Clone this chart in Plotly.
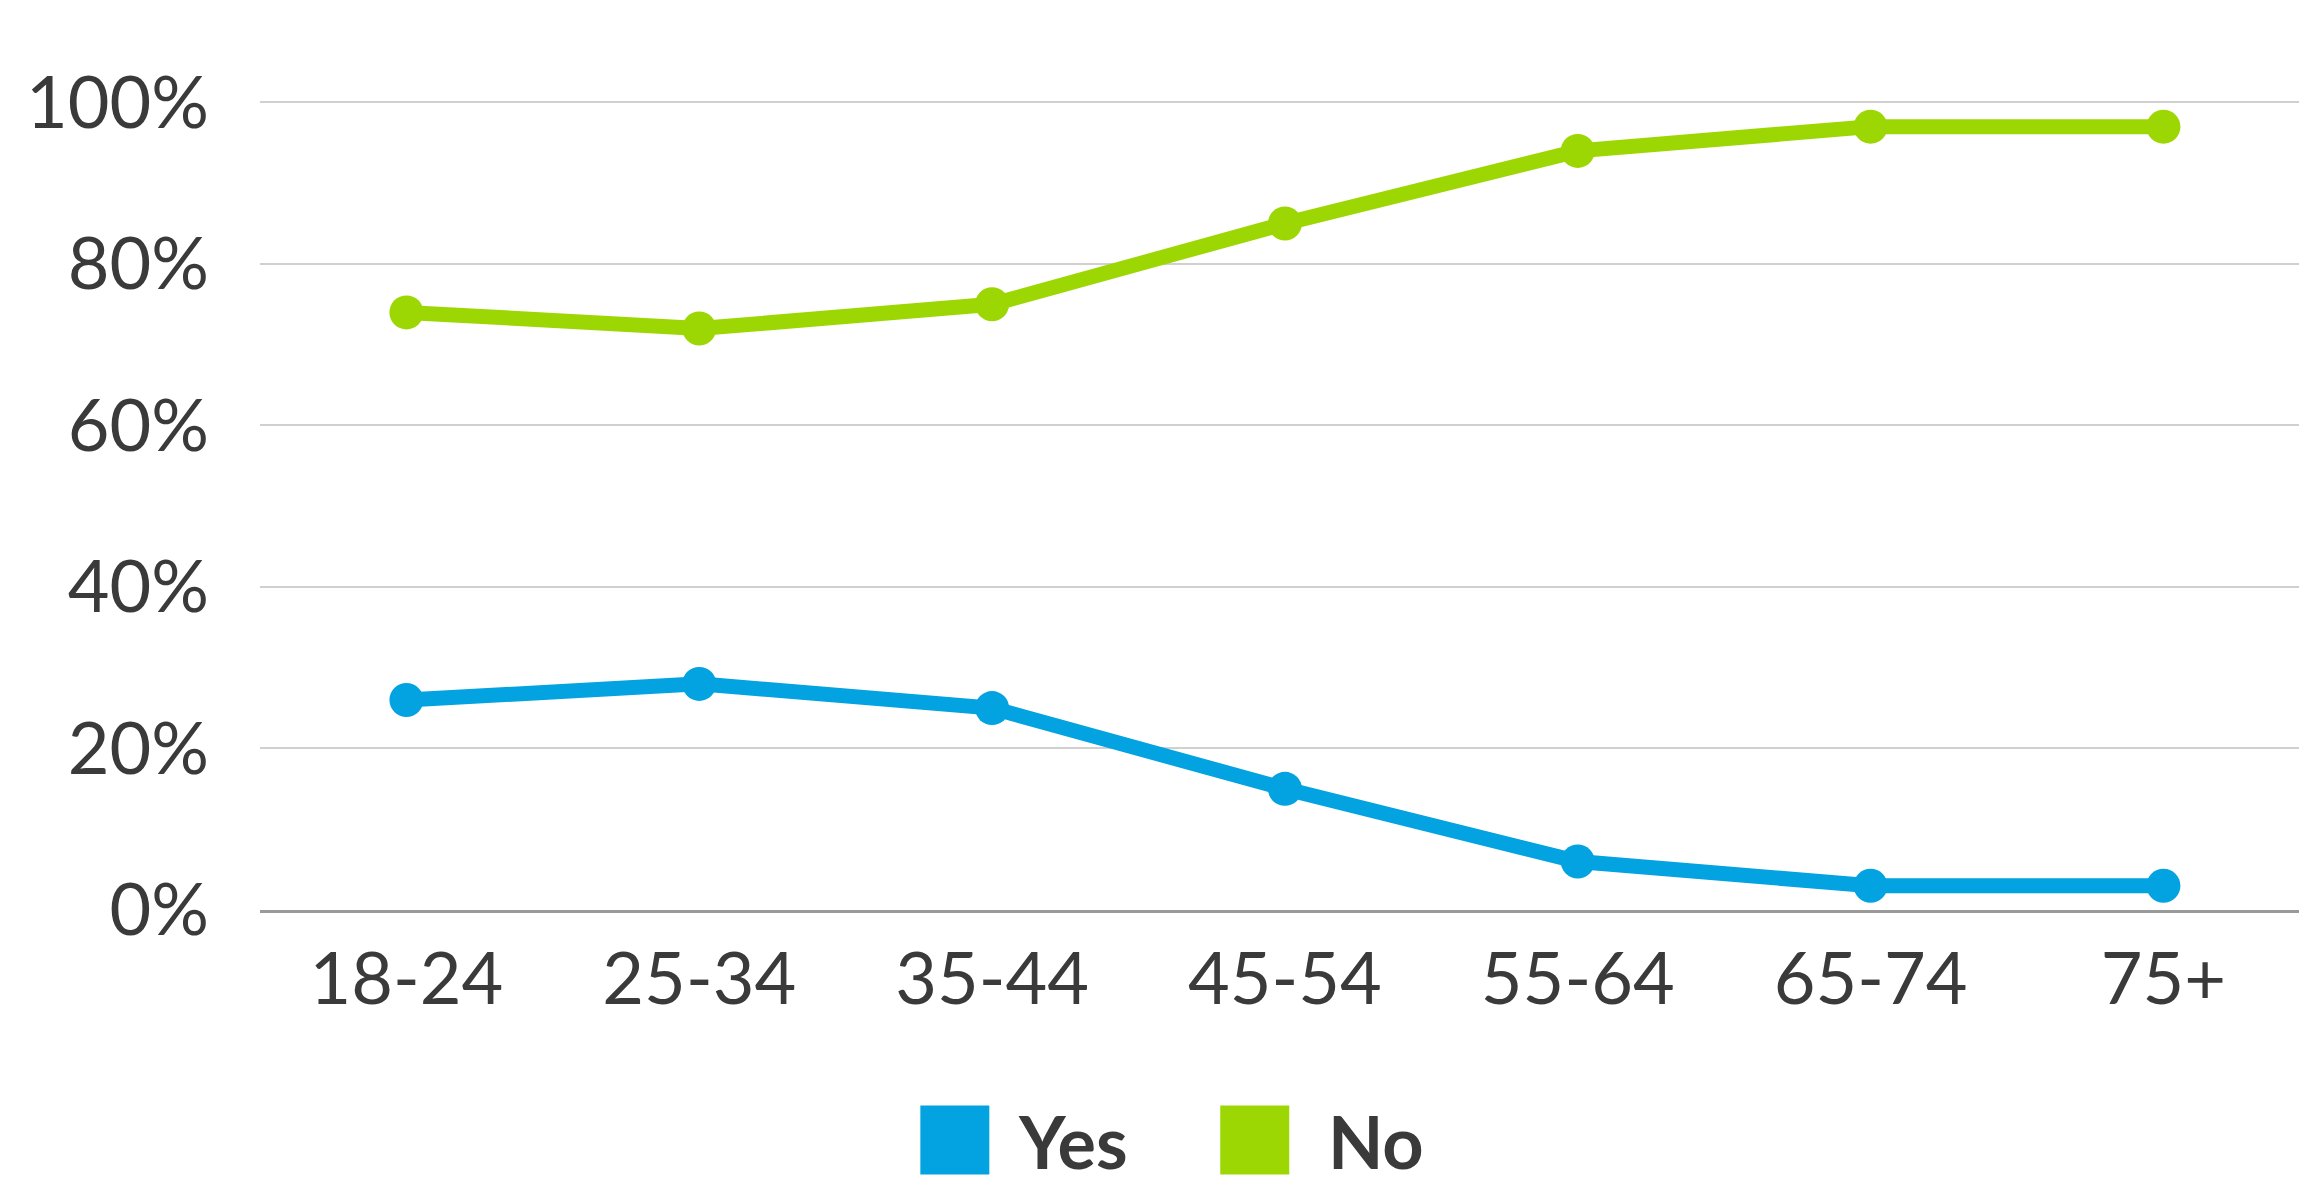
import plotly.graph_objects as go

categories = ["18-24", "25-34", "35-44", "45-54", "55-64", "65-74", "75+"]
yes_values = [0.26, 0.28, 0.25, 0.15, 0.06, 0.03, 0.03]
no_values = [0.74, 0.72, 0.75, 0.85, 0.94, 0.97, 0.97]
series_names = ["Yes", "No"]
series_colors = ["#02A3E0", "#9DD703"]
y_tick_vals = [0, 0.2, 0.4, 0.6, 0.8, 1.0]
y_tick_text = ["0%", "20%", "40%", "60%", "80%", "100%"]

W, H = 2299, 1187
ML, MR, MT, MB = 259.5, 0, 100.2, 276.5
PW, PH = W - ML - MR, H - MT - MB

def px_x(p):
    return (p - ML) / PW

def px_y(p):
    return (H - MB - p) / PH

fig = go.Figure()
for name, vals, col in zip(series_names, [yes_values, no_values], series_colors):
    fig.add_trace(go.Scatter(
        x=categories, y=vals, name=name, mode="lines+markers",
        line=dict(color=col, width=15),
        marker=dict(color=col, size=34),
        cliponaxis=False, showlegend=False,
    ))

# manual legend (large squares + bold labels)
legend_sq_left = [920, 1220]
legend_txt_left = [1016, 1326]
sq = 69
sq_top = 1106
shapes = []
annotations = []
for name, col, sl, tl in zip(series_names, series_colors, legend_sq_left, legend_txt_left):
    shapes.append(dict(type="rect", xref="paper", yref="paper",
                       x0=px_x(sl), x1=px_x(sl + sq), y0=px_y(sq_top + sq), y1=px_y(sq_top),
                       fillcolor=col, line=dict(width=0)))
    annotations.append(dict(text=name, xref="paper", yref="paper", x=px_x(tl),
                            y=px_y(1142), xanchor="left", yanchor="middle", showarrow=False,
                            font=dict(family="Lato", size=72, color="#3A3A3A", weight="bold")))

fig.update_layout(
    width=W, height=H,
    margin=dict(l=ML, r=MR, t=MT, b=MB, pad=0),
    paper_bgcolor="white", plot_bgcolor="white",
    font=dict(family="Lato", color="#3A3A3A"),
    shapes=shapes, annotations=annotations,
    showlegend=False,
)
fig.update_xaxes(
    type="category", range=[-0.5, 6.463],
    showgrid=False, showline=True, linecolor="#9A9A9A", linewidth=3,
    ticks="", tickfont=dict(size=72, color="#3A3A3A"), ticklabelstandoff=5,
)
fig.update_yaxes(
    range=[0, 1.003], tickvals=y_tick_vals, ticktext=y_tick_text,
    showgrid=True, gridcolor="#D0D0D0", gridwidth=2, zeroline=False,
    ticks="", tickfont=dict(size=72, color="#3A3A3A"), ticklabelstandoff=50,
)

fig.write_html("out.html")
